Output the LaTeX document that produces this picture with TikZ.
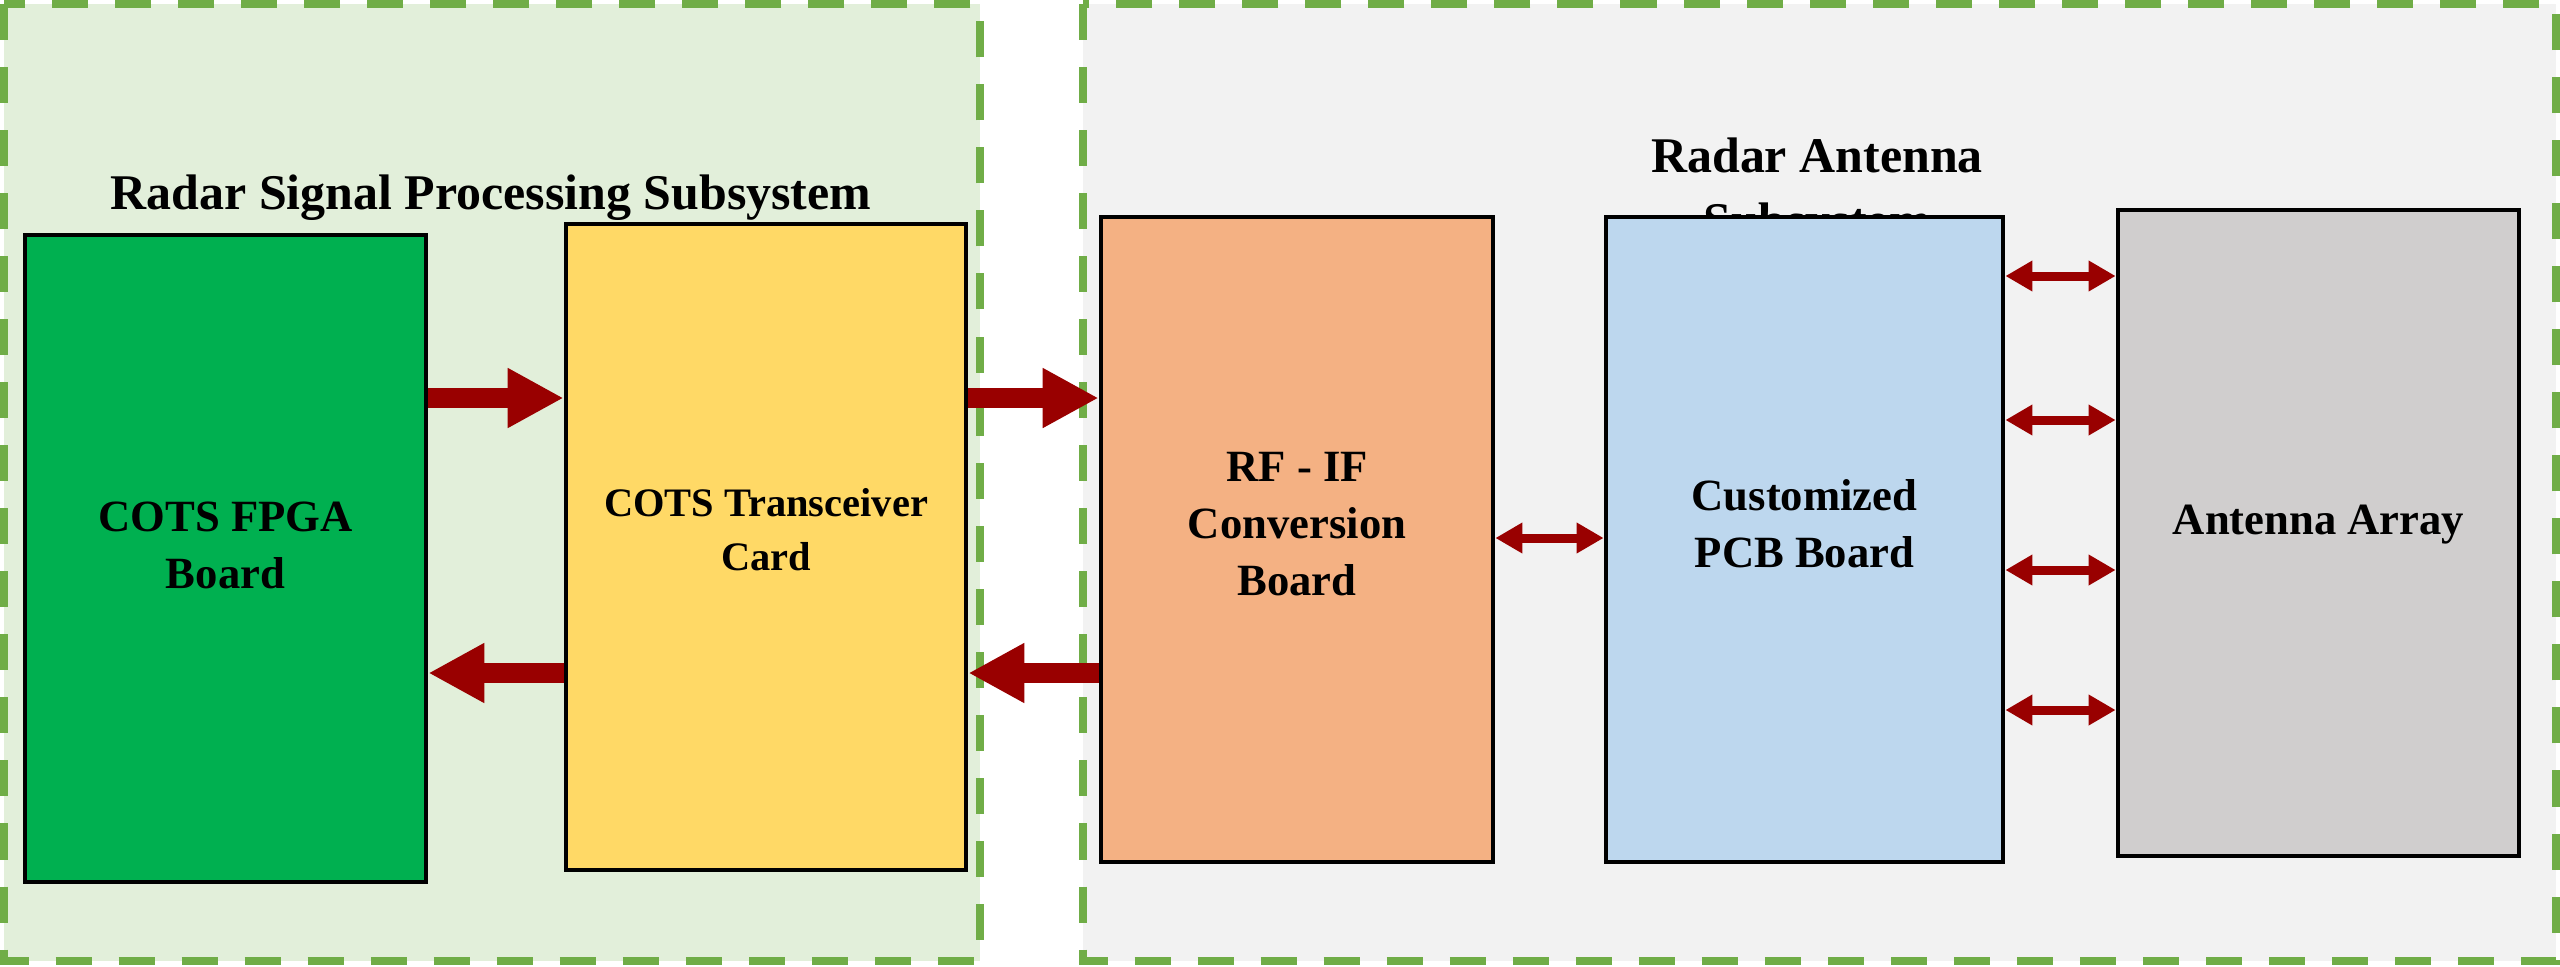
\documentclass[tikz,border=0pt]{standalone}
\usepackage{fontspec}
\setmainfont{Liberation Serif}
\usetikzlibrary{arrows.meta}
\definecolor{lgreen}{HTML}{E2EFDA}
\definecolor{lgray}{HTML}{F2F2F2}
\definecolor{dgreen}{HTML}{70AD47}
\definecolor{cfpga}{HTML}{00B050}
\definecolor{ctrx}{HTML}{FFD966}
\definecolor{crf}{HTML}{F4B183}
\definecolor{cpcb}{HTML}{BDD7EE}
\definecolor{cant}{HTML}{D0CECE}
\definecolor{darr}{HTML}{990000}
\begin{document}
\begin{tikzpicture}[x=0.01cm,y=-0.01cm,
  container/.style={line width=0.08cm, draw=dgreen, dash pattern=on 0.36cm off 0.27cm},
  block/.style={draw=black, line width=0.045cm, inner sep=0pt, minimum height=6.46cm},
  blocktext/.style={font=\fontsize{12.7pt}{16.2pt}\selectfont\bfseries, align=center, inner sep=0pt},
  smalltext/.style={font=\fontsize{11.5pt}{15.4pt}\selectfont\bfseries, align=center, inner sep=0pt},
  titletext/.style={font=\fontsize{14.2pt}{18.5pt}\selectfont\bfseries, align=center, inner sep=0pt},
  fat/.style={draw=darr, line width=0.2cm, -{Triangle[length=0.56cm,width=0.56cm]}},
  dbl/.style={draw=darr, line width=0.09cm, {Triangle[length=0.27cm,width=0.29cm]}-{Triangle[length=0.27cm,width=0.29cm]}},
]
\useasboundingbox (0,0) rectangle (2560,966);
\fill[white] (0,0) rectangle (2560,966);

% containers
\draw[container, fill=lgreen] (4,4) rectangle (980,961);
\draw[container, fill=lgray] (1083,4) rectangle (2556,961);

% titles
\node[titletext, anchor=base] (t1) at (491,209) {Radar Signal Processing Subsystem};
\node[titletext, anchor=north] (t2) at (1817,137) {Radar Antenna\\Subsystem};

% blocks
\node[block, fill=cfpga, minimum width=4.01cm, minimum height=6.47cm] (fpga) at (225.5,558.5) {};
\node[block, fill=ctrx, minimum width=4.00cm] (trx) at (766,547) {};
\node[block, fill=crf, minimum width=3.92cm, minimum height=6.45cm] (rf) at (1297,539.5) {};
\node[block, fill=cpcb, minimum width=3.97cm, minimum height=6.45cm] (pcb) at (1804.5,539.5) {};
\node[block, fill=cant, minimum width=4.01cm] (ant) at (2318.5,533) {};

% block texts
\node[blocktext] (fpgaT) at (225.5,545) {COTS FPGA\\Board};
\node[smalltext] (trxT) at (766,530) {COTS Transceiver\\Card};
\node[blocktext] (rfT) at (1297,524) {RF - IF\\Conversion\\Board};
\node[blocktext] (pcbT) at (1804.5,524) {Customized\\PCB Board};
\node[blocktext] (antT) at (2318.5,525) {Antenna Array};

% connector levels
\coordinate (ya) at (0,398);
\coordinate (yb) at (0,673);
\coordinate (yc) at (0,538);
\coordinate (y1) at (0,276);
\coordinate (y2) at (0,420);
\coordinate (y3) at (0,570);
\coordinate (y4) at (0,710);

% connectors
\draw[fat] (fpga.east |- ya) -- (trx.west |- ya);
\draw[fat] (trx.east |- ya) -- (rf.west |- ya);
\draw[fat] (rf.west |- yb) -- (trx.east |- yb);
\draw[fat] (trx.west |- yb) -- (fpga.east |- yb);
\draw[dbl] (rf.east |- yc) -- (pcb.west |- yc);
\draw[dbl] (pcb.east |- y1) -- (ant.west |- y1);
\draw[dbl] (pcb.east |- y2) -- (ant.west |- y2);
\draw[dbl] (pcb.east |- y3) -- (ant.west |- y3);
\draw[dbl] (pcb.east |- y4) -- (ant.west |- y4);
\end{tikzpicture}
\end{document}
